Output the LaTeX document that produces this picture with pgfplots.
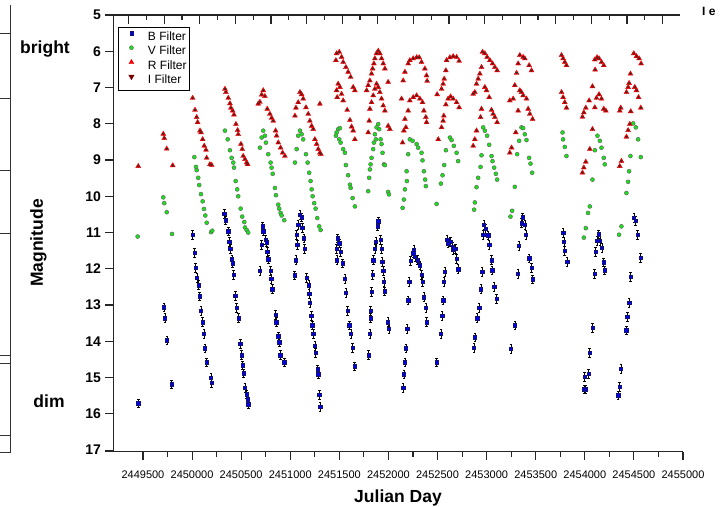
\documentclass[border=0pt]{standalone}
\usepackage{pgfplots}
\pgfplotsset{compat=1.18}
\usepackage{pgfplotstable}
\usepackage{fontspec}
\setmainfont{Liberation Sans}

\pgfplotstableread{
jd mag
2449452 15.71
2449714 13.06
2449724 13.36
2449745 13.97
2449792 15.19
2450006 11.06
2450027 11.55
2450037 11.97
2450050 12.24
2450067 12.45
2450077 12.76
2450091 13.15
2450108 13.47
2450121 13.80
2450131 14.19
2450149 14.58
2450193 15.00
2450200 15.14
2450328 10.49
2450342 10.66
2450369 10.97
2450379 11.25
2450389 11.44
2450406 11.74
2450413 11.85
2450424 12.16
2450440 12.75
2450454 13.08
2450475 13.36
2450491 14.07
2450505 14.38
2450515 14.66
2450525 14.88
2450539 15.28
2450556 15.46
2450566 15.60
2450572 15.74
2450719 10.83
2450725 10.97
2450709 11.34
2450749 11.20
2450760 11.27
2450766 11.53
2450776 11.74
2450691 12.06
2450800 12.06
2450806 12.27
2450817 12.56
2450851 13.27
2450857 13.47
2450878 13.86
2450888 14.03
2450898 14.38
2450939 14.58
2451099 10.51
2451116 10.58
2451081 10.79
2451122 10.86
2451065 11.06
2451071 11.34
2451139 11.16
2451146 11.44
2451058 11.76
2451045 12.18
2451167 12.25
2451190 12.45
2451193 12.69
2451200 12.94
2451214 13.29
2451224 13.56
2451234 13.80
2451251 14.12
2451258 14.31
2451279 14.77
2451285 14.91
2451295 15.48
2451305 15.81
2451482 11.16
2451499 11.30
2451472 11.44
2451513 11.53
2451475 11.76
2451533 11.85
2451557 12.27
2451567 12.66
2451584 13.15
2451601 13.56
2451618 13.80
2451635 14.17
2451656 14.69
2451896 10.69
2451890 10.83
2451872 11.25
2451862 11.44
2451845 11.76
2451839 12.16
2451828 12.64
2451818 13.15
2451820 13.36
2451811 13.80
2451798 14.38
2451920 11.20
2451930 11.44
2451936 11.81
2451947 12.06
2451954 12.36
2451961 12.62
2451994 13.47
2452005 13.66
2452259 11.48
2452252 11.57
2452269 11.67
2452225 11.78
2452297 11.76
2452320 11.90
2452337 12.16
2452211 12.36
2452347 12.36
2452201 12.87
2452361 12.78
2452381 13.08
2452388 13.47
2452191 13.66
2452178 14.19
2452168 14.58
2452157 14.91
2452150 15.28
2452575 12.08
2452564 12.36
2452557 12.87
2452547 13.29
2452534 13.80
2452490 14.58
2452598 11.20
2452608 11.30
2452633 11.25
2452653 11.39
2452659 11.48
2452680 11.44
2452694 11.73
2452710 12.01
2452972 10.79
2452989 10.90
2452965 11.06
2453015 11.08
2453026 11.34
2453050 11.76
2452954 12.08
2453056 12.04
2452941 12.56
2453077 12.50
2453101 12.82
2452924 13.08
2452903 13.36
2452880 13.89
2452870 14.17
2453365 10.58
2453355 10.74
2453389 10.79
2453399 11.06
2453328 11.36
2453433 11.71
2453457 11.97
2453468 12.29
2453318 12.13
2453287 13.56
2453247 14.21
2453779 11.00
2453786 11.25
2453796 11.51
2453820 11.81
2454142 11.05
2454125 11.23
2454153 11.23
2454173 11.42
2454109 11.53
2454193 11.82
2454203 12.04
2454099 12.13
2454078 13.63
2454048 14.31
2454038 14.89
2453997 14.98
2453990 15.32
2454007 15.32
2454499 10.60
2454519 10.67
2454537 11.06
2454570 11.69
2454465 12.22
2454451 12.94
2454434 13.33
2454424 13.70
2454369 14.75
2454356 15.25
2454339 15.49
}\Btab

\pgfplotstableread{
jd mag
2449446 11.11
2449707 10.03
2449717 10.19
2449742 10.44
2449796 11.04
2450023 8.92
2450040 9.19
2450047 9.28
2450063 9.49
2450073 9.69
2450091 9.94
2450108 10.14
2450121 10.35
2450135 10.53
2450149 10.73
2450193 10.99
2450206 10.95
2450335 8.19
2450363 8.43
2450386 8.73
2450403 8.94
2450420 9.07
2450427 9.21
2450444 9.58
2450460 9.81
2450470 10.00
2450495 10.34
2450511 10.56
2450532 10.71
2450539 10.86
2450556 10.93
2450572 11.00
2450691 8.66
2450709 8.38
2450725 8.19
2450742 8.33
2450752 8.52
2450776 8.84
2450800 9.07
2450810 9.21
2450821 9.38
2450844 9.77
2450854 9.97
2450878 10.23
2450888 10.34
2450902 10.46
2450912 10.53
2450939 10.66
2451099 8.19
2451116 8.29
2451081 8.33
2451132 8.43
2451065 8.70
2451160 8.84
2451048 9.07
2451177 9.07
2451193 9.35
2451207 9.58
2451218 9.81
2451228 10.00
2451244 10.19
2451258 10.34
2451275 10.60
2451295 10.83
2451309 10.93
2451488 8.15
2451506 8.12
2451472 8.24
2451465 8.33
2451499 8.43
2451513 8.52
2451539 8.70
2451557 8.80
2451567 9.14
2451590 9.42
2451608 9.68
2451615 9.77
2451635 10.05
2451658 10.28
2451896 8.01
2451879 8.10
2451906 8.15
2451862 8.29
2451872 8.43
2451852 8.52
2451845 8.70
2451828 8.94
2451818 9.12
2451811 9.26
2451804 9.49
2451794 9.86
2451920 8.43
2451930 8.56
2451940 8.80
2451954 9.12
2451964 9.14
2451997 9.88
2452005 9.95
2452218 8.43
2452246 8.47
2452287 8.56
2452303 8.66
2452337 8.80
2452347 9.01
2452361 9.31
2452374 9.54
2452381 9.72
2452201 8.84
2452185 9.31
2452188 9.58
2452168 9.81
2452157 10.09
2452144 10.32
2452626 8.38
2452643 8.45
2452666 8.61
2452694 8.80
2452710 9.03
2452585 8.73
2452568 9.14
2452551 9.42
2452534 9.65
2452490 10.21
2452965 8.10
2452982 8.19
2453005 8.33
2453026 8.58
2453050 8.89
2453060 9.03
2453077 9.21
2453094 9.38
2453107 9.54
2452948 8.87
2452938 9.19
2452914 9.49
2452897 9.75
2452880 10.17
2452873 10.37
2453355 8.10
2453372 8.12
2453389 8.29
2453406 8.45
2453331 8.47
2453311 8.84
2453433 8.94
2453447 9.10
2453464 9.35
2453287 9.74
2453260 10.40
2453243 10.56
2453773 8.24
2453779 8.43
2453796 8.64
2453813 8.89
2454129 8.33
2454153 8.47
2454170 8.66
2454102 8.73
2454193 8.94
2454203 9.12
2454078 9.54
2454051 10.28
2454033 10.46
2454010 10.88
2453990 11.14
2454492 7.99
2454519 8.10
2454543 8.43
2454465 8.89
2454570 8.92
2454451 9.31
2454441 9.60
2454424 9.91
2454373 10.83
2454349 11.06
}\Vtab

\pgfplotstableread{
jd mag
2449452 9.17
2449707 8.28
2449717 8.40
2449742 8.69
2449803 9.15
2450006 7.29
2450030 7.62
2450047 7.82
2450057 7.96
2450081 8.19
2450091 8.24
2450108 8.43
2450124 8.61
2450142 8.72
2450149 8.94
2450182 9.12
2450200 9.14
2450335 7.04
2450345 7.13
2450369 7.29
2450386 7.44
2450396 7.56
2450413 7.64
2450427 7.75
2450447 8.01
2450464 8.18
2450470 8.29
2450498 8.56
2450511 8.70
2450521 8.89
2450539 8.98
2450556 9.07
2450566 9.12
2450674 7.45
2450691 7.40
2450709 7.20
2450725 7.08
2450742 7.24
2450766 7.59
2450793 7.73
2450810 7.84
2450827 7.92
2450851 8.19
2450861 8.33
2450878 8.52
2450902 8.66
2450922 8.80
2450946 8.89
2451048 7.78
2451058 7.56
2451081 7.41
2451099 7.13
2451116 7.19
2451132 7.31
2451160 7.55
2451183 7.73
2451200 7.92
2451218 8.06
2451234 8.15
2451251 8.43
2451269 8.56
2451285 8.70
2451302 8.80
2451312 8.84
2451302 7.45
2451465 6.25
2451472 6.06
2451499 6.02
2451523 6.16
2451539 6.30
2451567 6.44
2451590 6.57
2451615 6.71
2451641 6.99
2451658 7.08
2451488 6.90
2451506 6.99
2451472 7.08
2451523 7.18
2451478 7.27
2451539 7.36
2451580 7.62
2451608 7.90
2451625 8.08
2451641 8.19
2451658 8.43
2451778 7.08
2451794 6.94
2451811 6.81
2451828 6.62
2451839 6.48
2451852 6.34
2451862 6.20
2451879 6.06
2451896 5.99
2451913 6.06
2451930 6.20
2451947 6.34
2451964 6.48
2451997 6.85
2451811 7.59
2451828 7.41
2451845 7.22
2451862 7.04
2451879 6.90
2451896 6.99
2451913 7.13
2451930 7.31
2451947 7.50
2451964 7.64
2451997 8.06
2451794 8.24
2451804 7.92
2452015 8.15
2452150 6.81
2452168 6.57
2452201 6.34
2452218 6.25
2452252 6.20
2452287 6.17
2452313 6.17
2452337 6.30
2452371 6.48
2452388 6.67
2452394 6.82
2452134 7.31
2452168 7.87
2452201 7.64
2452218 7.36
2452252 7.27
2452287 7.22
2452320 7.31
2452347 7.41
2452361 7.64
2452381 7.82
2452388 7.96
2452157 8.19
2452144 8.52
2452178 8.10
2452592 6.25
2452626 6.17
2452659 6.14
2452694 6.16
2452720 6.27
2452585 6.53
2452568 6.76
2452557 6.90
2452541 7.04
2452496 7.19
2452585 7.47
2452608 7.31
2452633 7.25
2452659 7.31
2452694 7.41
2452720 7.55
2452564 7.78
2452557 7.92
2452541 8.10
2452507 8.43
2452958 6.02
2452982 6.06
2453005 6.16
2453033 6.25
2453060 6.34
2453084 6.44
2453107 6.53
2452948 6.44
2452931 6.62
2452914 6.76
2452897 6.90
2452880 7.13
2452863 7.18
2452982 6.99
2452999 7.08
2453026 7.27
2452948 7.59
2452938 7.82
2453050 7.62
2453066 7.73
2453084 7.82
2453107 7.96
2452897 8.19
2452880 8.43
2452863 8.61
2453338 6.11
2453372 6.16
2453389 6.20
2453433 6.39
2453457 6.53
2453321 6.34
2453305 6.60
2453287 6.94
2453270 7.31
2453236 7.36
2453338 7.08
2453355 7.13
2453372 7.22
2453406 7.31
2453423 7.59
2453440 7.73
2453468 7.87
2453321 7.64
2453297 8.24
2453254 8.66
2453236 8.80
2453763 6.11
2453779 6.20
2453796 6.30
2453813 6.39
2453763 7.13
2453779 7.27
2453796 7.41
2453813 7.56
2454102 6.23
2454125 6.17
2454145 6.20
2454170 6.30
2454193 6.39
2454105 6.51
2454078 6.97
2454044 7.36
2454010 7.56
2453990 7.69
2453976 7.81
2454119 7.29
2454145 7.19
2454170 7.31
2454193 7.59
2454214 7.64
2454102 7.55
2454078 8.15
2454051 8.70
2454010 9.05
2453990 9.21
2453976 9.35
2454499 6.06
2454526 6.14
2454553 6.20
2454573 6.34
2454465 6.62
2454451 6.88
2454441 6.99
2454424 7.13
2454366 7.56
2454356 7.64
2454509 6.99
2454526 7.08
2454547 7.27
2454570 7.56
2454468 7.66
2454458 8.01
2454441 8.18
2454424 8.36
2454373 9.03
2454356 9.17
}\RItab

\definecolor{bblue}{RGB}{0,0,235}
\definecolor{bnavy}{RGB}{20,20,110}
\definecolor{vgreen}{RGB}{20,230,20}
\definecolor{rred}{RGB}{240,0,0}
\definecolor{idark}{RGB}{120,0,0}

\begin{document}
\begin{tikzpicture}
\useasboundingbox (0bp,0bp) rectangle (722bp,-507bp);
\begin{axis}[
  at={(113.5bp,-451.5bp)}, anchor=south west,
  scale only axis, width=569.5bp, height=436.5bp,
  xmin=2449200, xmax=2455000, ymin=5, ymax=17.04,
  y dir=reverse,
  scaled x ticks=false, scaled y ticks=false,
  axis x line*=bottom, axis y line*=left,
  x axis line style={-}, y axis line style={-},
  axis line style={line width=1.3bp, black!85},
  xtick={2449500,2450000,2450500,2451000,2451500,2452000,2452500,2453000,2453500,2454000,2454500,2455000},
  xticklabels={2449500,2450000,2450500,2451000,2451500,2452000,2452500,2453000,2453500,2454000,2454500,2455000},
  minor x tick num=1,
  ytick={5,6,7,8,9,10,11,12,13,14,15,16,17},
  yticklabels={5,6,7,8,9,10,11,12,13,14,15,16,17},
  tick align=outside, major tick length=8.5bp, minor tick length=5bp,
  tick style={line width=1.1bp, black!85},
  xticklabel style={font=\fontsize{11bp}{11bp}\selectfont, inner sep=0pt, yshift=-11bp},
  yticklabel style={font=\bfseries\fontsize{14bp}{14bp}\selectfont, inner sep=0pt, xshift=-4bp},
  legend style={at={(0.0079,0.9725)}, anchor=north west, draw=black, line width=0.9bp, fill=white,
     font=\fontsize{12bp}{12bp}\selectfont, inner xsep=1bp, inner ysep=2.5bp, row sep=0pt,
     cells={anchor=west}, nodes={inner sep=1.5bp, text height=9bp, text depth=2.5bp}},
  legend image code/.code={\path[draw=none, fill=none] (0bp,0bp) rectangle (27bp,1bp); \draw[#1] plot[only marks] coordinates {(12bp,4bp)};},
]
\addplot[only marks, mark=square*, mark size=1.7bp, mark options={fill=bblue, draw=bnavy, line width=0.5bp},
  error bars/.cd, y dir=both, y fixed=0.12, error bar style={black, line width=0.6bp},
  error mark options={rotate=90, mark size=1.3bp, black, line width=0.6bp}] table[x=jd, y=mag] {\Btab};
\addlegendentry{B Filter}
\addplot[only marks, mark=*, mark size=2.0bp, mark options={fill=vgreen, draw=black!60, line width=0.5bp}] table[x=jd, y=mag] {\Vtab};
\addlegendentry{V Filter}
\addplot[only marks, mark=triangle*, mark size=2.9bp, mark options={fill=rred, draw=rred, line width=0.3bp}] table[x=jd, y=mag] {\RItab};
\addlegendentry{R Filter}
\addplot[only marks, mark=triangle*, mark size=1.25bp, mark options={rotate=180, fill=idark, draw=black!80, line width=0.3bp},
  legend image post style={mark size=2.6bp, mark options={rotate=180, fill=idark, draw=idark}}] table[x=jd, y=mag] {\RItab};
\addlegendentry{I Filter}
\end{axis}
\begin{scope}[x=1bp, y=-1bp]
  \draw[line width=1.3bp, black!85] (105,15) -- (680,15);
  \foreach \k in {0,...,15} {\draw[line width=1.1bp, black!85] ({128.6+35.6*\k},15) -- ++(0,9);}
  \foreach \k in {0,...,14} {\draw[line width=1.1bp, black!85] ({146.4+35.6*\k},15) -- ++(0,5);}
  \draw[line width=1.3bp, black!85] (105,451.5) -- (113.5,451.5);
  \draw[line width=1bp, black!80] (10,5) -- (10,452) -- (0,452);
  \foreach \yy in {33,98,170,233,355,363,435} {\draw[line width=1bp, black!80] (0,\yy) -- (10,\yy);}
  \node[font=\bfseries\fontsize{17.5bp}{20bp}\selectfont, anchor=base] at (45,53) {bright};
  \node[font=\bfseries\fontsize{17.5bp}{20bp}\selectfont, anchor=base] at (49,407) {dim};
  \node[font=\bfseries\fontsize{17.5bp}{20bp}\selectfont, rotate=90] at (38.5,243) {Magnitude};
  \node[font=\bfseries\fontsize{17.5bp}{20bp}\selectfont, anchor=base] at (398,502) {Julian Day};
  \node[font=\bfseries\fontsize{12bp}{12bp}\selectfont, anchor=base west, inner sep=0pt] at (702,15) {I e};
\end{scope}
\end{tikzpicture}
\end{document}
